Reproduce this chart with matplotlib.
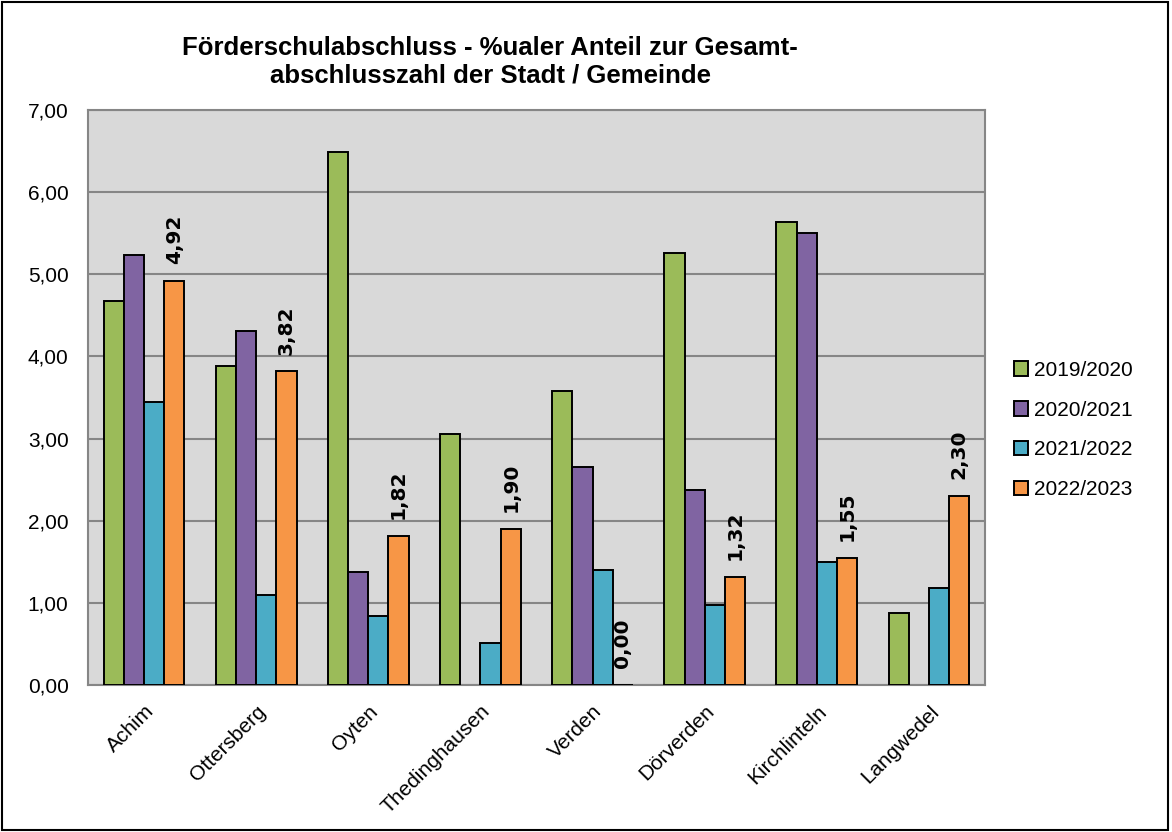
import matplotlib.pyplot as plt
import numpy as np
from matplotlib.patches import Rectangle
from matplotlib.ticker import FuncFormatter

# data
places = ['Achim', 'Ottersberg', 'Oyten', 'Thedinghausen', 'Verden',
          'Dörverden', 'Kirchlinteln', 'Langwedel']
years = ['2019/2020', '2020/2021', '2021/2022', '2022/2023']
v_2019 = [4.67, 3.88, 6.49, 3.06, 3.58, 5.26, 5.64, 0.88]
v_2020 = [5.23, 4.31, 1.37, np.nan, 2.65, 2.38, 5.50, np.nan]
v_2021 = [3.45, 1.09, 0.84, 0.51, 1.40, 0.97, 1.50, 1.18]
v_2022 = [4.92, 3.82, 1.82, 1.90, 0.00, 1.32, 1.55, 2.30]
colors = ['#9BBB59', '#8064A2', '#4BACC6', '#F79646']

plt.rcParams['font.family'] = ['Liberation Sans', 'DejaVu Sans']

fig = plt.figure(figsize=(11.72, 8.32), dpi=100)
ax = fig.add_axes([88 / 1172, 1 - 685 / 832, (985 - 88) / 1172, (685 - 110) / 832])
ax.set_facecolor('#D9D9D9')

x = np.arange(len(places))
w = 0.18
series = [v_2019, v_2020, v_2021, v_2022]
for i, (vals, col, lab) in enumerate(zip(series, colors, years)):
    ax.bar(x + (i - 1.5) * w, vals, w, color=col, edgecolor='black',
           linewidth=1.4, label=lab, zorder=3)

# value labels only for the last school year
for xi, v in zip(x, v_2022):
    ax.annotate(f'{v:.2f}'.replace('.', ','), (xi + 1.5 * w, v),
                xytext=(0, 12), textcoords='offset points', rotation=90,
                ha='center', va='bottom', fontsize=14.5, fontweight='bold',
                family='DejaVu Sans')

ax.set_ylim(0, 7)
ax.set_xlim(-0.5, len(places) - 0.5)
ax.set_yticks(np.arange(0, 7.01, 1))
ax.yaxis.set_major_formatter(FuncFormatter(lambda v, p: f'{v:.2f}'.replace('.', ',')))
ax.grid(axis='y', color='#868686', linewidth=1.5, zorder=0)
ax.set_xticks(x)
ax.set_xticklabels(places, rotation=45, ha='right', rotation_mode='anchor')
ax.tick_params(axis='y', length=0, pad=14, labelsize=15)
ax.tick_params(axis='x', length=0, pad=12, labelsize=15)
for s in ax.spines.values():
    s.set_color('#868686')
    s.set_linewidth(1.5)

fig.text(490 / 1172, 1 - 36 / 832,
         'Förderschulabschluss - %ualer Anteil zur Gesamt-\nabschlusszahl der Stadt / Gemeinde',
         ha='center', va='top', fontsize=18.5, fontweight='bold', linespacing=1.2)

fig.legend(loc='center left', bbox_to_anchor=(995 / 1172, 1 - 430 / 832),
           frameon=False, fontsize=15, handlelength=0.7, handleheight=0.7,
           handletextpad=0.25, labelspacing=1.0)

fig.patches.append(Rectangle((0.002, 0.002), 0.995, 0.995, transform=fig.transFigure,
                             fill=False, edgecolor='black', linewidth=1.5))

fig.savefig('out.png', dpi=100)
